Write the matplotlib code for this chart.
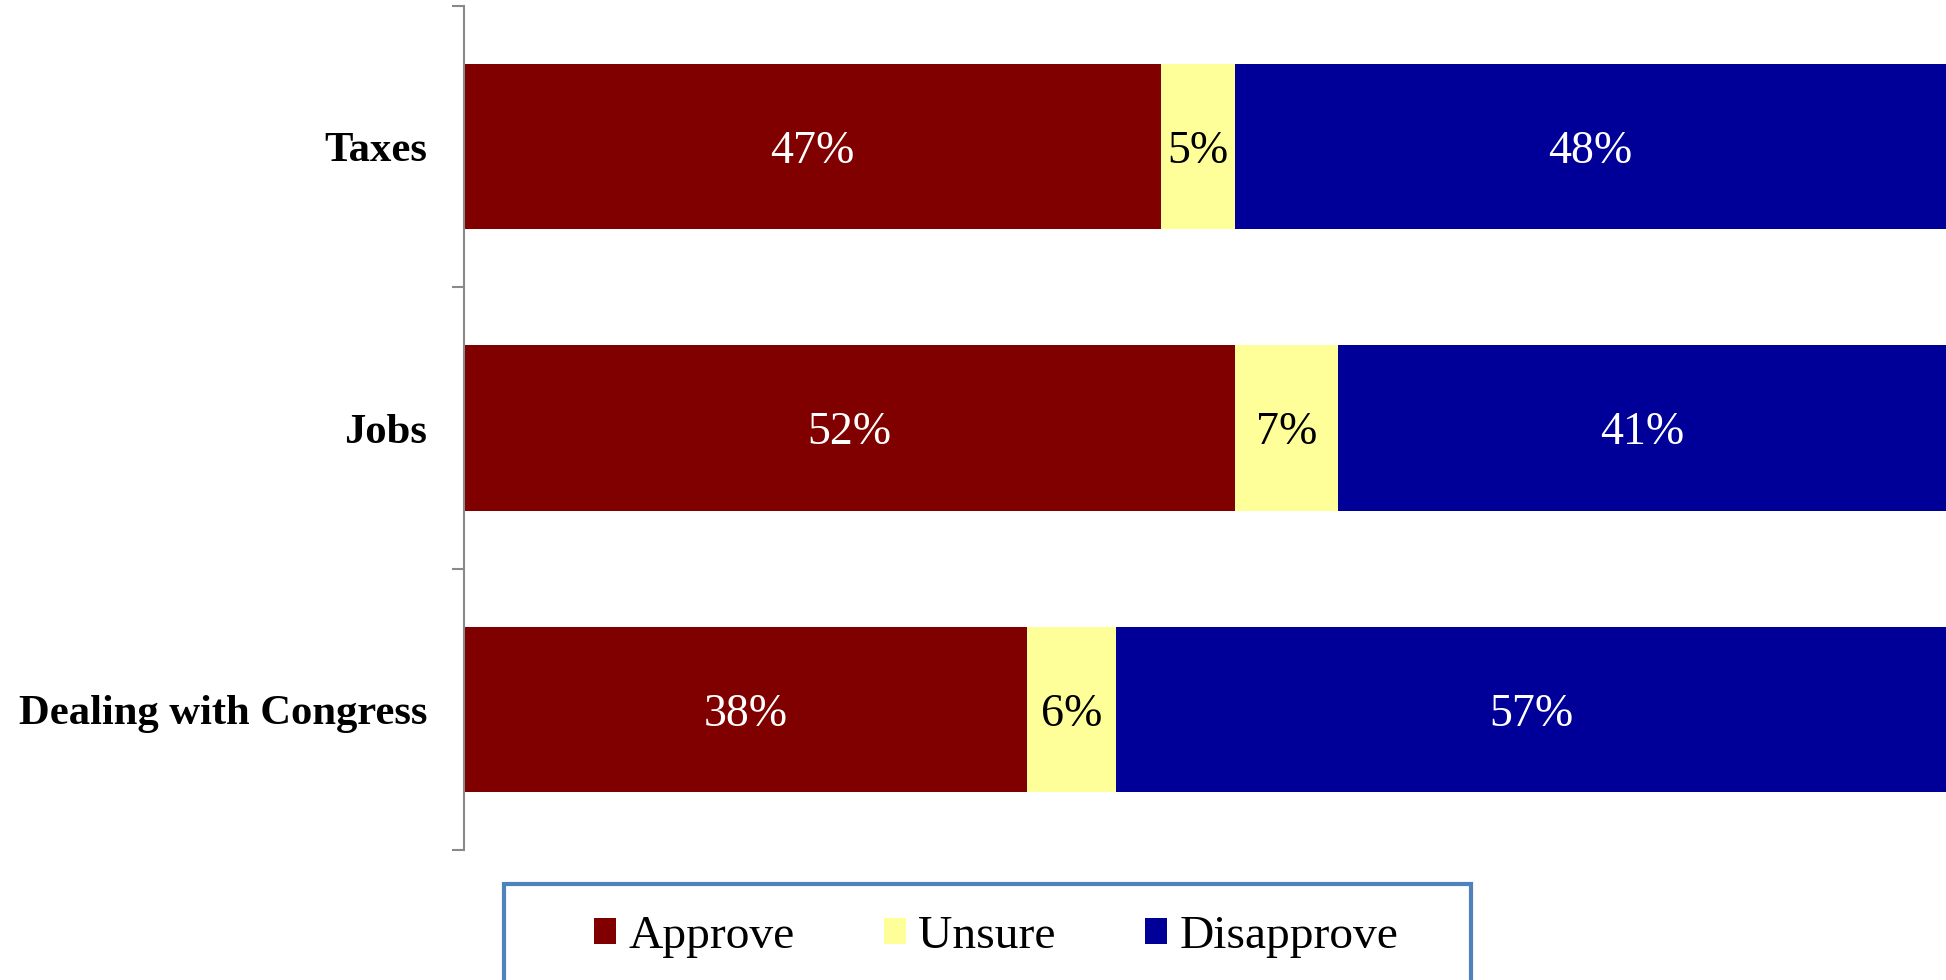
import numpy as np
import matplotlib.pyplot as plt
from matplotlib.patches import Rectangle

# данные
categories = ["Taxes", "Jobs", "Dealing with Congress"]
series_names = ["Approve", "Unsure", "Disapprove"]
approve = [47, 52, 38]
unsure = [5, 7, 6]
disapprove = [48, 41, 57]

colors = ["#800000", "#FFFF99", "#000099"]
text_colors = ["white", "black", "white"]

plt.rcParams["font.family"] = ["Liberation Serif", "DejaVu Serif"]

fig = plt.figure(figsize=(19.46, 9.80), dpi=100)
ax = fig.add_axes([464 / 1946, 1 - 850 / 980, 1 - 464 / 1946, 844 / 980])

y = np.arange(len(categories))
left = np.zeros(len(categories))
for vals, name, col, tcol in zip([approve, unsure, disapprove], series_names, colors, text_colors):
    vals = np.array(vals, dtype=float)
    ax.barh(y, vals, left=left, height=1 / 1.7, color=col, edgecolor="none", label=name)
    for yi, l, v in zip(y, left, vals):
        right = min(l + v, 100)
        ax.annotate(f"{int(v)}%", xy=((l + right) / 2, yi), xytext=(0, -3.6),
                    textcoords="offset points", ha="center", va="center",
                    color=tcol, fontsize=33)
    left = left + vals

ax.set_xlim(0, 100)
ax.set_ylim(len(categories) - 0.5, -0.5)

# оформление осей
for s in ["top", "right", "bottom"]:
    ax.spines[s].set_visible(False)
ax.spines["left"].set_color("#898989")
ax.spines["left"].set_linewidth(1.5)
ax.set_xticks([])
ax.set_yticks(y)
ax.set_yticklabels(categories, fontsize=30.7, fontweight="bold")
ax.tick_params(axis="y", which="major", length=0, pad=26.5)
ax.set_yticks(np.arange(-0.5, len(categories)), minor=True)
ax.tick_params(axis="y", which="minor", length=8.6, width=1.5, color="#898989", direction="out")

# легенда
handles, labels = ax.get_legend_handles_labels()
leg = fig.legend(handles, labels, loc="center", bbox_to_anchor=(996 / 1946, 1 - 937 / 980),
                 ncol=3, frameon=False, fontsize=34.2, handlelength=0.47, handleheight=0.47,
                 handletextpad=0.26, columnspacing=1.87)

frame = Rectangle((504 / 1946, -0.05), (1471 - 504) / 1946, 0.05 + 1 - 884 / 980,
                  transform=fig.transFigure, fill=False, edgecolor="#4F81BD", linewidth=3,
                  clip_on=False)
fig.patches.append(frame)

fig.savefig("out.png", dpi=100)
